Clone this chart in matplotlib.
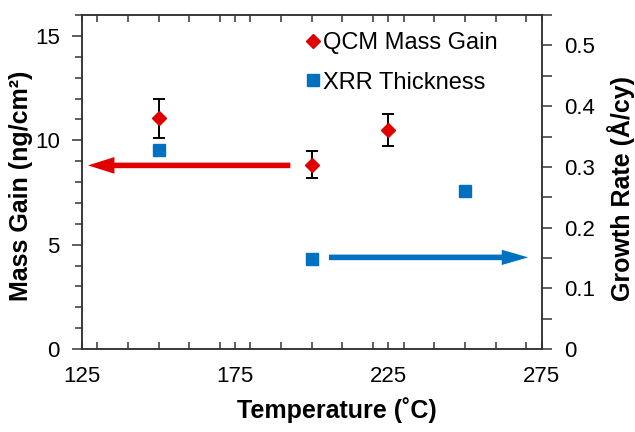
import matplotlib
matplotlib.use("Agg")
import matplotlib.pyplot as plt
from matplotlib.ticker import MultipleLocator
from matplotlib.lines import Line2D

plt.rcParams['font.family'] = ['Liberation Sans', 'DejaVu Sans']

# QCM mass gain (left axis)
qcm_temp = [150, 200, 225]
qcm_mass = [11.05, 8.84, 10.5]
qcm_err = [0.93, 0.66, 0.75]

# XRR growth rate (right axis)
xrr_temp = [150, 200, 250]
xrr_rate = [0.328, 0.148, 0.261]

x_ticks = [125, 175, 225, 275]

red = '#E00000'
blue = '#0070C0'
spine_col = '#333333'

fig = plt.figure(figsize=(6.35, 4.32), dpi=100)
ax = fig.add_axes([0.129, 0.192, 0.724, 0.773])
ax2 = ax.twinx()

ax.errorbar(qcm_temp, qcm_mass, yerr=qcm_err, fmt='D', color=red, ms=7.5,
            ecolor='black', elinewidth=1.4, capsize=4.5, capthick=1.4, zorder=3)
ax2.plot(xrr_temp, xrr_rate, 's', color=blue, ms=9, zorder=3)

# arrows pointing at the axis each series belongs to
ax.annotate('', xy=(127, 8.8), xytext=(193, 8.8),
            arrowprops=dict(arrowstyle='simple,head_length=1.9,head_width=1.2,tail_width=0.4',
                            color=red, lw=0, shrinkA=0, shrinkB=0, mutation_scale=10))
ax2.annotate('', xy=(270.6, 0.151), xytext=(205.6, 0.151),
             arrowprops=dict(arrowstyle='simple,head_length=1.9,head_width=1.1,tail_width=0.4',
                             color=blue, lw=0, shrinkA=0, shrinkB=0, mutation_scale=10))

ax.set_xlim(125, 275)
ax.set_ylim(0, 16)
ax2.set_ylim(0, 0.55)

ax.set_xticks(x_ticks)
ax.xaxis.set_minor_locator(MultipleLocator(10))
ax.yaxis.set_major_locator(MultipleLocator(5))
ax.yaxis.set_minor_locator(MultipleLocator(1))
ax2.yaxis.set_major_locator(MultipleLocator(0.1))
ax2.yaxis.set_minor_locator(MultipleLocator(0.05))
ax2.set_yticklabels(['0' if abs(v) < 1e-9 else f'{v:.1f}' for v in ax2.get_yticks()])

ax.tick_params(axis='x', which='both', direction='in', top=True, length=5,
               width=1.1, color=spine_col, labelsize=16, pad=12)
ax.tick_params(axis='y', which='major', direction='out', length=7, width=1.1,
               color=spine_col, labelsize=16, pad=9)
ax.tick_params(axis='y', which='minor', direction='out', length=5, width=1.1, color=spine_col)
ax2.tick_params(axis='y', which='both', direction='out', length=7, width=1.1,
                color=spine_col, labelsize=16, pad=9)

for a in (ax, ax2):
    for s in a.spines.values():
        s.set_color(spine_col)
        s.set_linewidth(1.1)

ax.set_xlabel('Temperature (˚C)', fontsize=18, fontweight='bold')
ax.set_ylabel('Mass Gain (ng/cm²)', fontsize=18, fontweight='bold')
ax2.set_ylabel('Growth Rate (Å/cy)', fontsize=18, fontweight='bold')
ax.xaxis.set_label_coords(0.555, -0.145)
ax.yaxis.set_label_coords(-0.107, 0.49)
ax2.yaxis.set_label_coords(1.142, 0.48)

handles = [Line2D([], [], marker='D', ls='', color=red, ms=7.5),
           Line2D([], [], marker='s', ls='', color=blue, ms=9)]
ax2.legend(handles, ['QCM Mass Gain', 'XRR Thickness'], loc='upper left',
           bbox_to_anchor=(0.451, 0.998), frameon=False, fontsize=17,
           handlelength=0.6, handletextpad=0.15, labelspacing=0.73,
           borderaxespad=0.3)

fig.savefig('out.png', dpi=100)
